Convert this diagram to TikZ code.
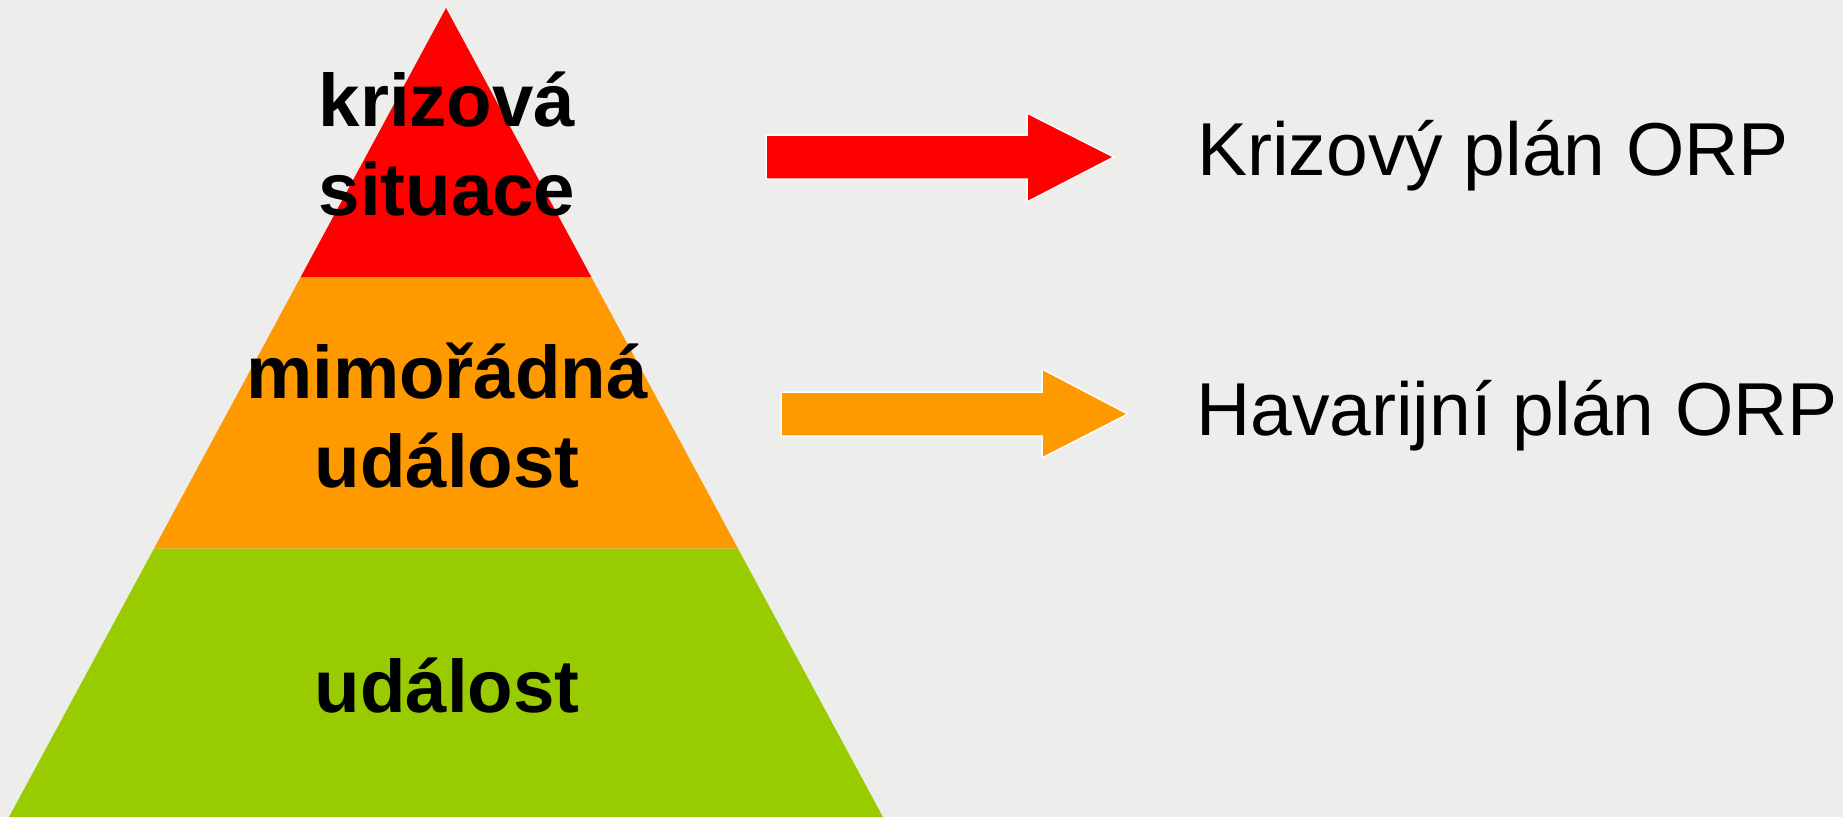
\documentclass[tikz,border=0pt]{standalone}
\usepackage{fontspec}
\setmainfont{Liberation Sans}
\usetikzlibrary{calc}

\definecolor{bg}{RGB}{237,237,235}
\definecolor{krize}{RGB}{255,0,0}
\definecolor{havarie}{RGB}{255,153,0}
\definecolor{udalost}{RGB}{153,204,0}

\begin{document}
\begin{tikzpicture}[x=1pt,y=-1pt]
  \tikzstyle{level}=[align=center,inner sep=0pt,anchor=base,
                     font=\bfseries\fontsize{74.5}{89}\selectfont]
  \tikzstyle{plan}=[inner sep=0pt,anchor=base west,
                    font=\fontsize{75}{90}\selectfont]
  \tikzstyle{block}=[draw=white,line width=1.5pt,line join=miter]

  \fill[bg] (0,0) rectangle (1843,817);
  \useasboundingbox (0,0) rectangle (1843,817);

  % pyramid
  \coordinate (apex) at (446,8);
  \coordinate (bl)   at (9,817);
  \coordinate (br)   at (883,817);
  \coordinate (l1) at ($(apex)!0.3325!(bl)$);
  \coordinate (r1) at ($(apex)!0.3325!(br)$);
  \coordinate (l2) at ($(apex)!0.668!(bl)$);
  \coordinate (r2) at ($(apex)!0.668!(br)$);

  \fill[udalost] (l2) -- (r2) -- (br) -- (bl) -- cycle;
  \fill[havarie] (l1) -- (r1) -- (r2) -- (l2) -- cycle;
  \fill[krize]   (apex) -- (r1) -- (l1) -- cycle;

  % base anchor sits on the last line
  \node[level] (ks) at (447,215) {krizová\\situace};
  \node[level] (mu) at (447,487) {mimořádná\\událost};
  \node[level] (ud) at (447,712) {událost};

  % arrows
  \draw[block,fill=krize]
    (766,135) -- (1027,135) -- (1027,113) -- (1114,157)
    -- (1027,202) -- (1027,179) -- (766,179) -- cycle;
  \draw[block,fill=havarie]
    (781,392) -- (1042,392) -- (1042,369) -- (1128,414)
    -- (1042,458) -- (1042,436) -- (781,436) -- cycle;

  \node[plan] (kp) at (1197,175) {Krizový plán ORP};
  \node[plan] (hp) at (1196,435) {Havarijní plán ORP};
\end{tikzpicture}
\end{document}
